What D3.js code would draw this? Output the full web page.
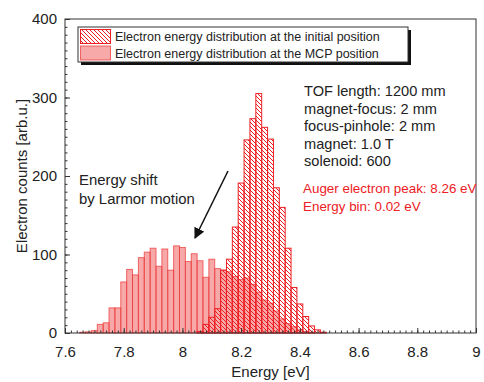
<!DOCTYPE html>
<html>
<head>
<meta charset="utf-8">
<script src="https://cdn.jsdelivr.net/npm/d3@7"></script>
<style>
  body { margin: 0; background: #fff; }
  svg text { font-family: "Liberation Sans", Arial, sans-serif; fill: #222; }
</style>
</head>
<body>
<svg id="chart" width="484" height="382"></svg>
<script>
// bin centres in eV (bin width 0.02 eV)
const energies = [7.66, 7.68, 7.70, 7.72, 7.74, 7.76, 7.78, 7.80, 7.82, 7.84, 7.86, 7.88,
  7.90, 7.92, 7.94, 7.96, 7.98, 8.00, 8.02, 8.04, 8.06, 8.08, 8.10, 8.12, 8.14, 8.16,
  8.18, 8.20, 8.22, 8.24, 8.26, 8.28, 8.30, 8.32, 8.34, 8.36, 8.38, 8.40, 8.42, 8.44,
  8.46, 8.48];

// counts at the initial position (hatched)
const initialCounts = [0, 0, 0, 0, 0, 0, 0, 0, 0, 0, 0, 0,
  0, 0, 0, 0, 0, 0, 0, 0, 2, 11, 20, 31, 80, 94,
  135, 191, 246, 273, 305, 262, 247, 185, 160, 108, 58, 37, 21, 9,
  4, 1];

// counts at the MCP position (filled)
const mcpCounts = [1, 1.5, 3, 11, 13, 32, 32, 65, 81, 74, 96, 103,
  108, 85, 107, 80, 111, 109, 91, 101, 92, 71, 94, 82, 80, 78,
  72, 68, 70, 62, 52, 42, 38, 28, 18, 12, 8, 4, 2, 1,
  0, 0];

const xTicks = [7.6, 7.8, 8.0, 8.2, 8.4, 8.6, 8.8, 9.0];
const yTicks = [0, 100, 200, 300, 400];

const legendLabels = [
  "Electron energy distribution at the initial position",
  "Electron energy distribution at the MCP position"
];
const infoLines = ["TOF length: 1200 mm", "magnet-focus: 2 mm", "focus-pinhole: 2 mm",
  "magnet: 1.0 T", "solenoid: 600"];
const redLines = ["Auger electron peak: 8.26 eV", "Energy bin: 0.02 eV"];
const noteLines = ["Energy shift", "by Larmor motion"];

const binWidth = 0.02;
const red = "#ec2024";
const pinkFill = "rgba(240, 90, 90, 0.52)";
const pinkStroke = "rgba(236, 60, 60, 0.75)";

const plot = { left: 65, right: 476, top: 19, bottom: 333 };
const svg = d3.select("#chart");

const x = d3.scaleLinear().domain([7.6, 9.0]).range([plot.left, plot.right]);
const y = d3.scaleLinear().domain([0, 400]).range([plot.bottom, plot.top]);

// hatch pattern
const defs = svg.append("defs");
const hatch = defs.append("pattern")
  .attr("id", "hatch")
  .attr("patternUnits", "userSpaceOnUse")
  .attr("width", 4).attr("height", 4);
hatch.append("path")
  .attr("d", "M0,0 L4,4 M-1,3 L1,5 M3,-1 L5,1")
  .attr("stroke", red).attr("stroke-width", 1);

const bins = energies.map((e, i) => ({ e, init: initialCounts[i], mcp: mcpCounts[i] }));

// MCP bars first, hatched on top with see-through background
svg.append("g").selectAll("rect")
  .data(bins.filter(d => d.mcp > 0))
  .join("rect")
  .attr("x", d => x(d.e - binWidth / 2))
  .attr("width", d => x(d.e + binWidth / 2) - x(d.e - binWidth / 2))
  .attr("y", d => y(d.mcp))
  .attr("height", d => y(0) - y(d.mcp))
  .attr("fill", pinkFill)
  .attr("stroke", pinkStroke)
  .attr("stroke-width", 1);

svg.append("g").selectAll("rect")
  .data(bins.filter(d => d.init > 0))
  .join("rect")
  .attr("x", d => x(d.e - binWidth / 2))
  .attr("width", d => x(d.e + binWidth / 2) - x(d.e - binWidth / 2))
  .attr("y", d => y(d.init))
  .attr("height", d => y(0) - y(d.init))
  .attr("fill", "url(#hatch)")
  .attr("stroke", red)
  .attr("stroke-width", 1);

// frame
svg.append("rect")
  .attr("x", plot.left).attr("y", plot.top)
  .attr("width", plot.right - plot.left).attr("height", plot.bottom - plot.top)
  .attr("fill", "none").attr("stroke", "#333").attr("stroke-width", 1);

// axes with inward ticks
const xMinor = d3.range(7.6, 9.0001, 0.02);
const yMinor = d3.range(0, 401, 10);

const xAxis = svg.append("g").attr("transform", `translate(0,${plot.bottom})`);
xAxis.call(d3.axisBottom(x).tickValues(xMinor).tickSize(-2.5).tickFormat(""))
  .call(g => g.select(".domain").remove());
xAxis.append("g").call(d3.axisBottom(x).tickValues(xTicks).tickSize(-5).tickPadding(13)
  .tickFormat(d3.format("~g")))
  .call(g => g.select(".domain").remove());

const yAxis = svg.append("g").attr("transform", `translate(${plot.left},0)`);
yAxis.call(d3.axisLeft(y).tickValues(yMinor).tickSize(-2.5).tickFormat(""))
  .call(g => g.select(".domain").remove());
yAxis.append("g").call(d3.axisLeft(y).tickValues(yTicks).tickSize(-5).tickPadding(8))
  .call(g => g.select(".domain").remove());

svg.selectAll(".tick line").attr("stroke", "#333");
svg.selectAll(".tick text")
  .style("font-family", '"Liberation Sans", Arial, sans-serif')
  .style("font-size", "15px").attr("fill", "#222");

// axis titles
svg.append("text")
  .attr("x", (plot.left + plot.right) / 2 + 0).attr("y", 377)
  .attr("text-anchor", "middle").style("font-size", "15px")
  .text("Energy [eV]");
svg.append("text")
  .attr("transform", `translate(22,${(plot.top + plot.bottom) / 2}) rotate(-90)`)
  .attr("text-anchor", "middle").attr("dy", "0.35em").style("font-size", "15px")
  .text("Electron counts [arb.u.]");

// legend
const lg = svg.append("g");
lg.append("rect").attr("x", 81).attr("y", 30).attr("width", 330).attr("height", 35)
  .attr("fill", "#111");
lg.append("rect").attr("x", 78).attr("y", 27).attr("width", 330).attr("height", 35)
  .attr("fill", "#fff").attr("stroke", "#333").attr("stroke-width", 1);
legendLabels.forEach((label, i) => {
  const sy = 29.5 + i * 16.5;
  lg.append("rect").attr("x", 80.5).attr("y", sy).attr("width", 30).attr("height", 14)
    .attr("fill", i === 0 ? "url(#hatch)" : pinkFill)
    .attr("stroke", i === 0 ? red : pinkStroke).attr("stroke-width", 1);
  lg.append("text").attr("x", 115).attr("y", sy + 11.5)
    .style("font-size", "12.5px").text(label);
});

// parameter text
infoLines.forEach((line, i) => {
  svg.append("text").attr("x", 304).attr("y", 96 + i * 17.6)
    .style("font-size", "14.6px").text(line);
});
redLines.forEach((line, i) => {
  svg.append("text").attr("x", 303).attr("y", 193 + i * 17.5)
    .style("font-size", "13.4px").style("fill", red).text(line);
});

// annotation with arrow
noteLines.forEach((line, i) => {
  svg.append("text").attr("x", 79).attr("y", 185 + i * 18.5)
    .style("font-size", "14.9px").text(line);
});
defs.append("marker")
  .attr("id", "arrow").attr("viewBox", "0 0 10 10")
  .attr("refX", 9).attr("refY", 5)
  .attr("markerWidth", 11).attr("markerHeight", 11)
  .attr("markerUnits", "userSpaceOnUse")
  .attr("orient", "auto")
  .append("path").attr("d", "M0,0 L10,5 L0,10 Z").attr("fill", "#111");
svg.append("line")
  .attr("x1", 228).attr("y1", 171).attr("x2", 195).attr("y2", 238)
  .attr("stroke", "#111").attr("stroke-width", 1.5)
  .attr("marker-end", "url(#arrow)");
</script>
</body>
</html>
